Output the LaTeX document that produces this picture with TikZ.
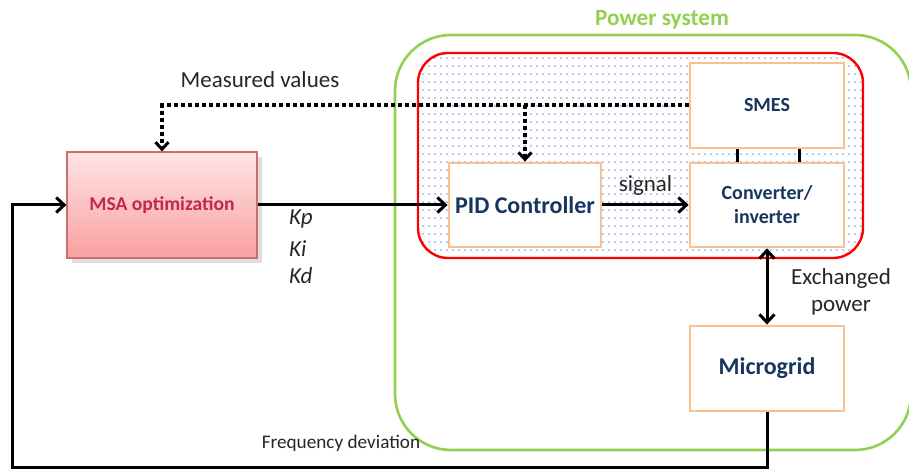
\documentclass[tikz,border=0pt]{standalone}
\usepackage{fontspec}
\setmainfont{Carlito}
\usetikzlibrary{arrows.meta,shadows,positioning,calc}
\definecolor{psgreen}{RGB}{146,208,80}
\definecolor{boxorange}{RGB}{250,192,143}
\definecolor{navytext}{RGB}{23,54,93}
\definecolor{msatext}{RGB}{192,40,80}
\definecolor{msaborder}{RGB}{205,110,110}
\definecolor{dotblue}{RGB}{110,150,220}

\begin{document}
\begin{tikzpicture}[x=0.5pt, y=-0.5pt,
        block/.style={draw=boxorange, line width=1.4pt, fill=white, inner sep=0pt,
            minimum width=77pt, minimum height=42pt, align=center, text=navytext},
        sig/.style={line width=1.5pt, -{Straight Barb[length=4pt,width=7.5pt]}},
        meas/.style={line width=2pt, dash pattern=on 2pt off 1.5pt,
            -{Straight Barb[length=3.5pt,width=6.5pt,line width=1.5pt]}},
        lbl/.style={font=\fontsize{11.5}{13.5}\selectfont, text=black!85}]
        \useasboundingbox (0,0) rectangle (909,469);

        % REGIONS
        % -----------------
        \draw[psgreen, line width=1.3pt, rounded corners=28pt] (395,35) rectangle (911,450);
        \begin{scope}
            \clip[rounded corners=15pt] (418,53) rectangle (863,258);
            \foreach \x in {423,429,...,861}
                \foreach \y in {58,66,...,256}
                    \fill[dotblue] (\x,\y) circle (0.45pt);
        \end{scope}
        \draw[red, line width=1.2pt, rounded corners=15pt] (418,53) rectangle (863,258);

        % NODES
        % -----------------
        \node[font=\bfseries\fontsize{11.6}{13}\selectfont, text=psgreen] (power) at (662,20) {Power system};

        \node[block, font=\bfseries\fontsize{10}{12}\selectfont, minimum height=42.5pt] (smes) at (767,105.5) {SMES};
        \node[block, font=\bfseries\fontsize{10}{12}\selectfont] (conv) at (767,205) {Converter/\\inverter};
        \node[block, font=\bfseries\fontsize{12}{14}\selectfont, minimum width=76pt] (pid) at (525,205) {PID Controller};
        \node[block, font=\bfseries\fontsize{12}{14}\selectfont, minimum height=42.5pt] (mg) at (767,368.5) {Microgrid};

        \node[draw=msaborder, line width=0.6pt, top color={rgb,255:red,255;green,228;blue,228},
            bottom color={rgb,255:red,249;green,160;blue,160}, drop shadow={opacity=0.25},
            minimum width=95pt, minimum height=53pt, text=msatext,
            font=\bfseries\fontsize{9.8}{11}\selectfont] (msa) at (162,205) {MSA optimization};

        \node[lbl] (measured) at (260,80) {Measured values};
        \node[lbl, above=1pt of {$(pid.east)!0.5!(conv.west)$}] (signal) {signal};
        \node[lbl, align=center] (exch) at (841,292) {Exchanged\\power};
        \node[font=\fontsize{9.6}{11}\selectfont, text=black!85] (freq) at (341,443) {Frequency deviation};

        \node[lbl, font=\itshape\fontsize{11.5}{13.5}\selectfont, anchor=west] (kp) at (282,219) {Kp};
        \node[lbl, font=\itshape\fontsize{11.5}{13.5}\selectfont, anchor=west] (ki) at (282,249) {Ki};
        \node[lbl, font=\itshape\fontsize{11.5}{13.5}\selectfont, anchor=west] (kd) at (282,276) {Kd};

        \coordinate (fb) at (12,467);

        % EDGES
        % -----------------
        \draw[sig] (msa) -- (pid);
        \draw[sig] (pid) -- (conv);
        \draw[sig, {Straight Barb[length=4pt,width=7.5pt]}-{Straight Barb[length=4pt,width=7.5pt]}] (conv) -- (mg);
        \draw[line width=1.5pt] ([xshift=-15pt]smes.south) -- ([xshift=-15pt]conv.north);
        \draw[line width=1.5pt] ([xshift=16pt]smes.south) -- ([xshift=16pt]conv.north);

        \draw[meas] (smes.west) -| (msa.north);
        \draw[meas] (smes.west -| pid.north) -- (pid.north);

        \draw[sig] (mg.south) |- (fb) |- (msa.west);

\end{tikzpicture}
\end{document}
